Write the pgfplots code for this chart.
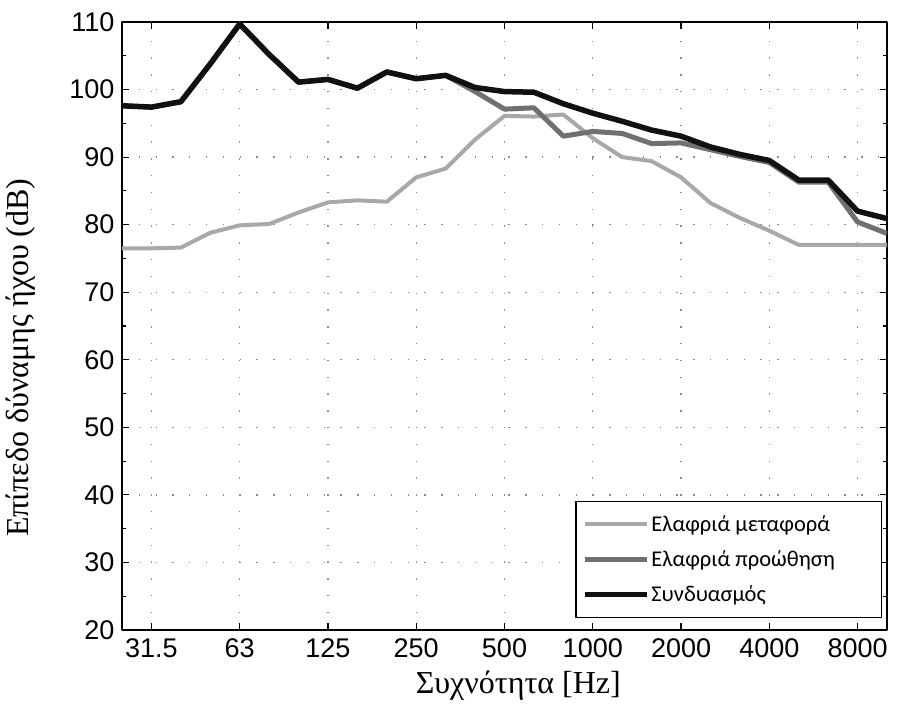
\documentclass[border=0pt]{standalone}
\usepackage{pgfplots}
\pgfplotsset{compat=1.18}
\usepackage{fontspec}
\setmainfont{Liberation Serif}
\newfontfamily\ticksans{Liberation Sans}
\newfontfamily\legfont{Carlito}

\definecolor{lightc}{HTML}{A8A8A8}
\definecolor{midc}{HTML}{707070}
\definecolor{darkc}{HTML}{111111}

\begin{document}
\begin{tikzpicture}
\path[use as bounding box] (0,0) rectangle (903pt,722pt);
\begin{axis}[
  at={(122pt,92pt)}, anchor=south west,
  scale only axis, width=765pt, height=608pt,
  xmin=0, xmax=26, ymin=20, ymax=110,
  % one-third-octave bands, 25 Hz (index 0) to 10 kHz (index 26)
  xtick={1,4,7,10,13,16,19,22,25},
  xticklabels={31.5,63,125,250,500,1000,2000,4000,8000},
  ytick={20,30,...,110},
  minor ytick={25,35,...,105},
  tick align=inside,
  major tick length=7pt, minor tick length=4pt,
  xmajorgrids, ymajorgrids,
  grid style={black!45, line width=1.3pt, dash pattern=on 1.3pt off 15.5pt},
  axis line style={line width=1.3pt},
  tick style={line width=1.2pt, black},
  /pgf/number format/assume math mode=true,
  ticklabel style={font=\ticksans\fontsize{27}{30}\selectfont},
  xticklabel style={yshift=-5pt},
  yticklabel style={xshift=-4pt},
  xlabel={Συχνότητα [Hz]},
  ylabel={Επίπεδο δύναμης ήχου (dB)},
  xlabel style={at={(axis description cs:0.518,-0.092)}, anchor=center,
    font=\fontsize{32}{36}\selectfont},
  ylabel style={at={(axis description cs:-0.133,0.448)}, anchor=center,
    font=\fontsize{32}{36}\selectfont},
  legend style={at={(0.9935,0.0197)}, anchor=south east, draw=black, line width=1.2pt,
    font=\legfont\fontsize{22.5}{27}\selectfont, row sep=14pt, inner xsep=6pt, inner ysep=12pt,
    cells={anchor=west}},
  legend image code/.code={\draw[#1] (0pt,0pt) -- (48pt,0pt); \path (0pt,0pt) -- (62pt,0pt);},
  line join=round,
]
\addplot[color=lightc, line width=4pt] coordinates {
  (0,76.5) (1,76.5) (2,76.6) (3,78.8) (4,79.9) (5,80.1) (6,81.8) (7,83.3)
  (8,83.6) (9,83.4) (10,87.0) (11,88.3) (12,92.6) (13,96.1) (14,96.0)
  (15,96.3) (16,92.8) (17,90.0) (18,89.4) (19,87.0) (20,83.2) (21,81.0)
  (22,79.1) (23,77.0) (24,77.0) (25,77.0) (26,77.0)
};
\addlegendentry{\makebox[222pt][l]{Ελαφριά μεταφορά}}
\addplot[color=midc, line width=5pt] coordinates {
  (0,97.6) (1,97.4) (2,98.2) (3,103.8) (4,109.7) (5,105.2) (6,101.1) (7,101.5)
  (8,100.2) (9,102.6) (10,101.6) (11,102.1) (12,99.7) (13,97.1) (14,97.3)
  (15,93.1) (16,93.8) (17,93.5) (18,92.0) (19,92.1) (20,91.1) (21,90.1)
  (22,89.2) (23,86.3) (24,86.3) (25,80.4) (26,78.7)
};
\addlegendentry{Ελαφριά προώθηση}
\addplot[color=darkc, line width=5.5pt] coordinates {
  (0,97.6) (1,97.4) (2,98.2) (3,103.8) (4,109.7) (5,105.2) (6,101.1) (7,101.5)
  (8,100.2) (9,102.6) (10,101.6) (11,102.1) (12,100.3) (13,99.7) (14,99.6)
  (15,97.9) (16,96.5) (17,95.3) (18,94.0) (19,93.1) (20,91.5) (21,90.4)
  (22,89.5) (23,86.6) (24,86.6) (25,82.0) (26,80.9)
};
\addlegendentry{Συνδυασμός}
\end{axis}
\end{tikzpicture}
\end{document}
